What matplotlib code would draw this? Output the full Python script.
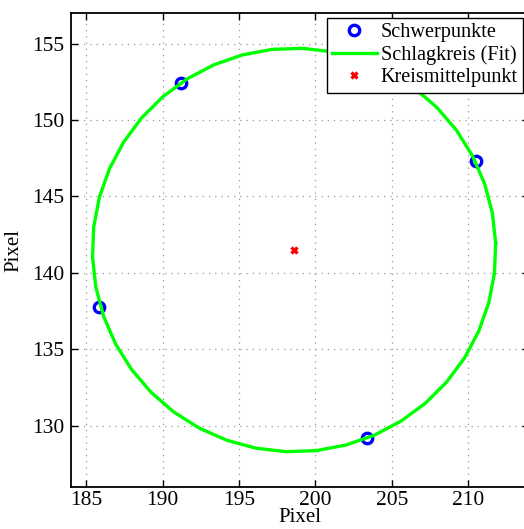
import numpy as np
import matplotlib.pyplot as plt

# Schwerpunkte der Markierungen (Pixelkoordinaten)
pts_x = [191.2, 210.5, 185.8, 203.4]
pts_y = [152.4, 147.3, 137.8, 129.2]

# Kreisfit: Mittelpunkt und Radius
xc, yc = 198.6, 141.5
r = 13.2
n_seg = 42
phi0 = np.deg2rad(2.0)

phi = phi0 + np.linspace(0, 2 * np.pi, n_seg + 1)
kreis_x = xc + r * np.cos(phi)
kreis_y = yc + r * np.sin(phi)

plt.rcParams['font.family'] = ['Liberation Serif', 'DejaVu Serif']
plt.rcParams['font.size'] = 15

fig = plt.figure(figsize=(5.24, 5.29), dpi=100)
# axes reicht rechts leicht ueber den Bildrand hinaus
ax = fig.add_axes([71 / 524, 1 - 487 / 529, (529.4 - 71) / 524, (487 - 13) / 529])

ax.plot(pts_x, pts_y, 'o', mfc='none', mec='#0000ff', mew=2.4, ms=7.5, label='Schwerpunkte')
ax.plot(kreis_x, kreis_y, '-', color='#00ff00', lw=2.4, label='Schlagkreis (Fit)')
ax.plot([xc], [yc], 'x', color='#ff0000', mew=2.4, ms=4, label='Kreismittelpunkt')

ax.set_xlim(184, 214)
ax.set_ylim(126, 157)
ax.set_xticks([185, 190, 195, 200, 205, 210])
ax.set_yticks([130, 135, 140, 145, 150, 155])
ax.grid(True, linestyle=(0, (1, 4)), color='#999999', lw=0.9)
ax.tick_params(direction='in', top=True, right=True, length=5, width=1, labelsize=15.5, pad=5)
ax.tick_params(axis='x', pad=3)
for s in ax.spines.values():
    s.set_linewidth(1.3)

ax.set_xlabel('Pixel', fontsize=15, labelpad=-1.5)
ax.set_ylabel('Pixel', fontsize=15, labelpad=6)

leg = ax.legend(loc='upper right', bbox_to_anchor=(1.0 - 6.4 / 458.4, 0.989),
                fancybox=False, framealpha=1, edgecolor='black', fontsize=14.6,
                borderpad=0.25, labelspacing=0.15, handlelength=2.2, handletextpad=0.2,
                borderaxespad=0.0)
leg.get_frame().set_linewidth(1.0)

fig.savefig('out.png', dpi=100)
